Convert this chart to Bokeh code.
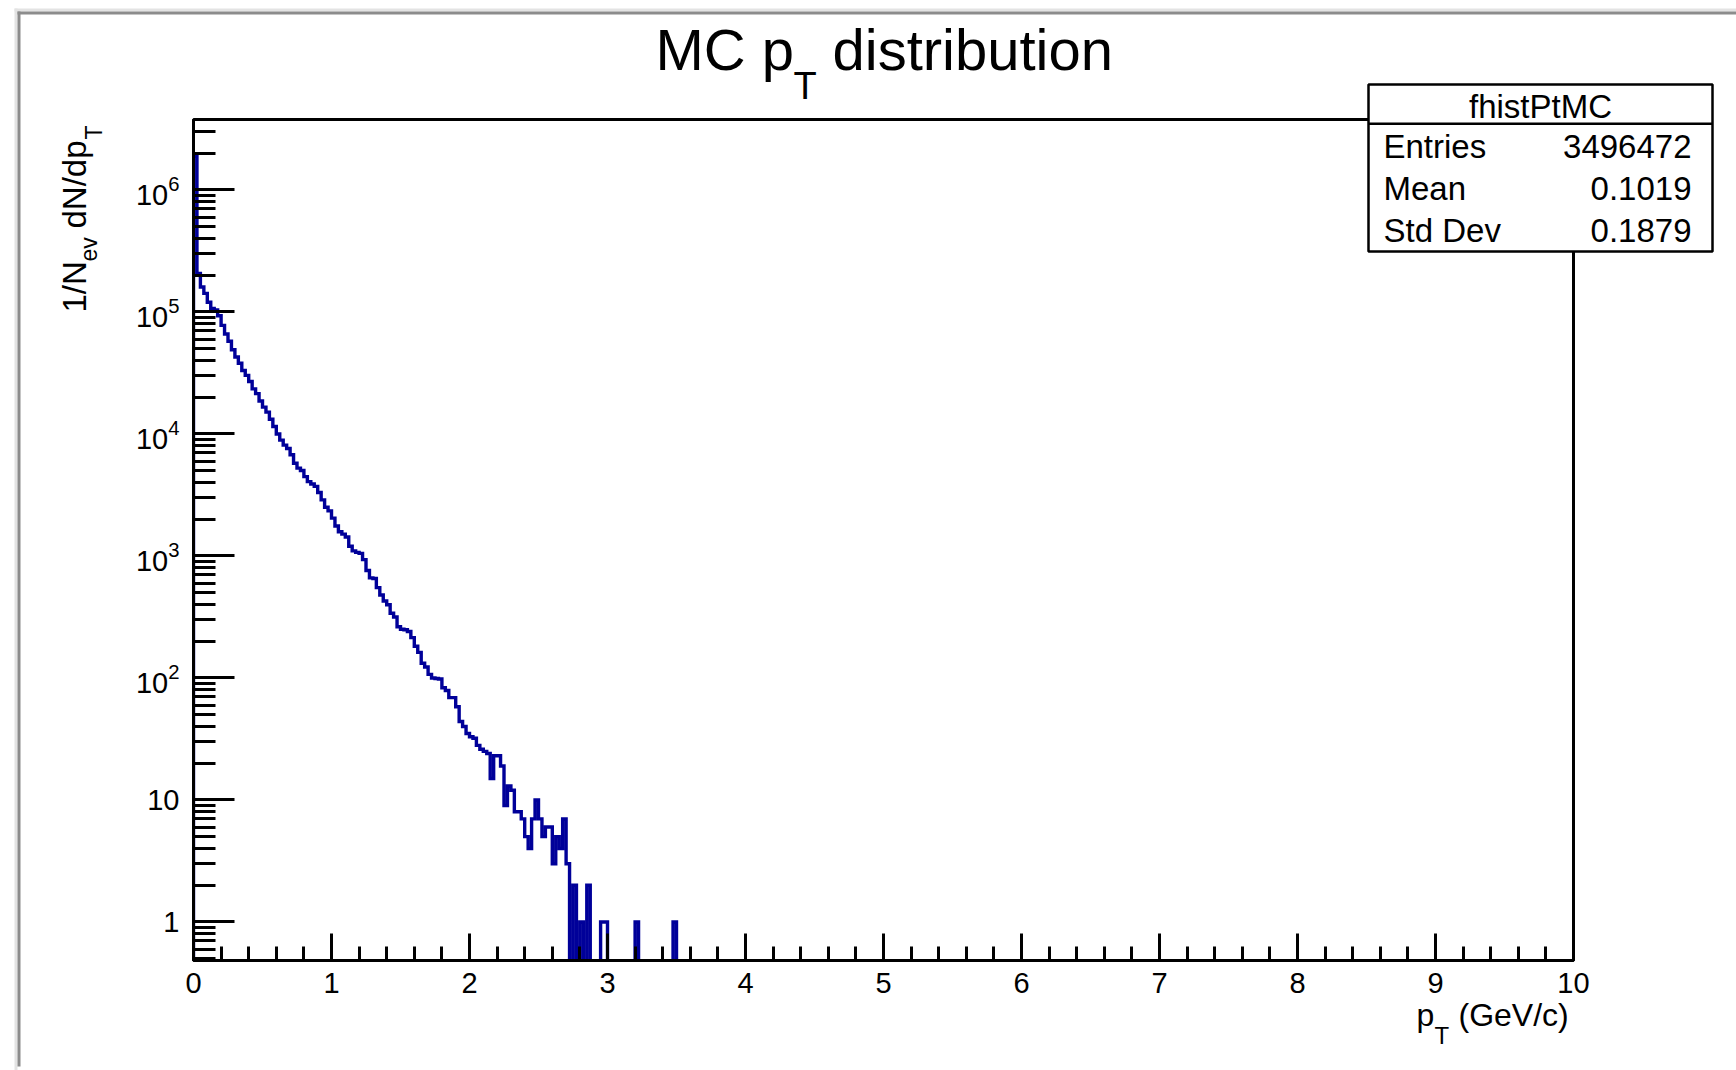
import math
from bokeh.plotting import figure
from bokeh.models import (Range1d, FixedTicker, SingleIntervalTicker, LogTickFormatter,
                          Label, BoxAnnotation, ColumnDataSource)
from bokeh.embed import file_html
from bokeh.resources import INLINE

# ---------------- data ----------------
bin_width = 0.025
n_bins = 400
counts = [
    1900000, 207000, 160000, 142000, 120000, 107000, 104000, 93000, 77600, 66000,
    57500, 49000, 42700, 38000, 33100, 30200, 26900, 23400, 21400, 18600,
    16600, 15100, 13200, 11500, 10000, 8900, 8100, 7600, 6760, 5750,
    5250, 5010, 4470, 4070, 3890, 3720, 3310, 2880, 2510, 2340,
    2040, 1760, 1580, 1510, 1430, 1200, 1100, 1070, 1050, 933,
    759, 661, 653, 550, 479, 427, 398, 339, 316, 263,
    251, 248, 240, 214, 182, 162, 132, 123, 107, 100,
    99, 98, 83, 79, 69, 69, 58, 44, 40, 35,
    33, 32, 28, 26, 25, 24, 15, 23, 23, 19,
    9, 13, 12, 8, 8, 7, 5, 4, 7, 10,
    7, 5, 6, 6, 3, 5, 4, 7, 3, 0,
    2, 0, 1, 0, 2, 0, 0, 0, 1, 1,
    0, 0, 0, 0, 0, 0, 0, 0, 1, 0,
    0, 0, 0, 0, 0, 0, 0, 0, 0, 1,
]
x_major_ticks = [0, 1, 2, 3, 4, 5, 6, 7, 8, 9, 10]
y_decades = [0, 1, 2, 3, 4, 5, 6]
hist_name = "fhistPtMC"
stats_names = ["Entries", "Mean", "Std Dev"]
stats_values = ["3496472", "0.1019", "0.1879"]

# ---------------- layout ----------------
W, H = 1736, 1070
FL, FR, FT, FB = 193, 1573, 119, 960
YMIN, YMAX = 0.483, 3.78e6
FONT = "Liberation Sans"
BASE_CORR = 0.34  # baseline correction (fraction of font size)

full_counts = counts + [0] * (n_bins - len(counts))
edges = [i * bin_width for i in range(n_bins + 1)]
floor = YMIN * 0.05
xs = [edges[0]]
ys = [floor]
for i, c in enumerate(full_counts):
    v = c if c > 0 else floor
    xs += [edges[i], edges[i + 1]]
    ys += [v, v]
xs.append(edges[-1])
ys.append(floor)
src = ColumnDataSource(dict(x=xs, y=ys))

# main plot (frame, axes, histogram)
p = figure(width=W, height=H, x_range=Range1d(0, 10), y_range=Range1d(YMIN, YMAX),
           y_axis_type="log", output_backend="svg", toolbar_location=None, title=None,
           min_border_left=FL, min_border_right=W - FR, min_border_top=FT,
           min_border_bottom=H - FB)
p.grid.visible = False
p.background_fill_color = "white"
p.border_fill_color = "white"
p.outline_line_color = "black"
p.outline_line_width = 3

p.line("x", "y", source=src, line_color="#000099", line_width=3.4, line_join="miter")

xa = p.xaxis[0]
xa.ticker = SingleIntervalTicker(interval=1, num_minor_ticks=5)
xa.major_tick_in = 27
xa.major_tick_out = 0
xa.minor_tick_in = 14
xa.minor_tick_out = 0
xa.major_tick_line_width = 3
xa.minor_tick_line_width = 3
xa.axis_line_width = 3
xa.major_label_text_font = FONT
xa.major_label_text_font_size = "29px"
xa.major_label_text_color = "black"
xa.major_label_standoff = 12

ya = p.yaxis[0]
major = [10.0 ** d for d in y_decades]
minor = [k * 10.0 ** d for d in range(-1, 7) for k in range(2, 10)]
ya.ticker = FixedTicker(ticks=major, minor_ticks=minor)
ya.formatter = LogTickFormatter(min_exponent=1)
ya.major_label_overrides = {10: "10"}
ya.major_tick_in = 41
ya.major_tick_out = 0
ya.minor_tick_in = 22
ya.minor_tick_out = 0
ya.major_tick_line_width = 3
ya.minor_tick_line_width = 3
ya.axis_line_width = 3
ya.major_label_text_font = FONT
ya.major_label_text_font_size = "29px"
ya.major_label_text_color = "black"
ya.major_label_standoff = 14

# transparent overlay covering the whole canvas, for texts outside the frame
ov = figure(width=W, height=H, x_range=Range1d(0, W), y_range=Range1d(0, H),
            output_backend="svg", toolbar_location=None, title=None,
            x_axis_location=None, y_axis_location=None, min_border=0)
ov.grid.visible = False
ov.outline_line_color = None
ov.background_fill_color = None
ov.border_fill_color = None
ov.styles = {"position": "absolute", "top": "0px", "left": "0px"}


def box(l, r, t, b, fill, line=None, lw=0):
    ov.add_layout(BoxAnnotation(left=l, right=r, top=t, bottom=b,
                                left_units="canvas", right_units="canvas",
                                top_units="canvas", bottom_units="canvas",
                                fill_color=fill, fill_alpha=1.0,
                                line_color=line, line_width=lw, line_alpha=1.0))


def lab(x, y, text, size, align="left", angle=0.0):
    if angle:
        x = x - BASE_CORR * size
    else:
        y = y - BASE_CORR * size
    ov.add_layout(Label(x=x, y=y, x_units="canvas", y_units="canvas", text=text,
                        text_font=FONT, text_font_size=f"{size}px", text_align=align,
                        text_baseline="alphabetic", angle=angle, text_color="black"))


# canvas window border
box(14, W, 8, 11, "#e3e3e3")
box(14, 17, 8, 1070, "#e3e3e3")
box(17, W, 11, 14, "#8c8c8c")
box(17, 20, 11, 1066, "#8c8c8c")

# title
lab(655, 69, "MC p", 58)
lab(793, 98, "T", 38)
lab(832, 69, "distribution", 58)

# x-axis title
lab(1416, 1025, "p", 32)
lab(1434, 1043, "T", 24)
lab(1458, 1025, "(GeV/c)", 32)

# y-axis title (rotated)
ang = math.pi / 2
lab(85, 312, "1/N", 33, angle=ang)
lab(96, 261, "ev", 23, angle=ang)
lab(85, 228, "dN/dp", 33, angle=ang)
lab(101, 139, "T", 23, angle=ang)

# stats box
box(1368, 1712, 84, 251, "white", "black", 2.5)
box(1368, 1712, 122, 124.5, "black")
lab(1540, 117, hist_name, 33, align="center")
for i, (n, v) in enumerate(zip(stats_names, stats_values)):
    yb = 157 + 42 * i
    lab(1383, yb, n, 33)
    lab(1691, yb, v, 33, align="right")

open("out.html", "w").write(file_html([p, ov], INLINE))
